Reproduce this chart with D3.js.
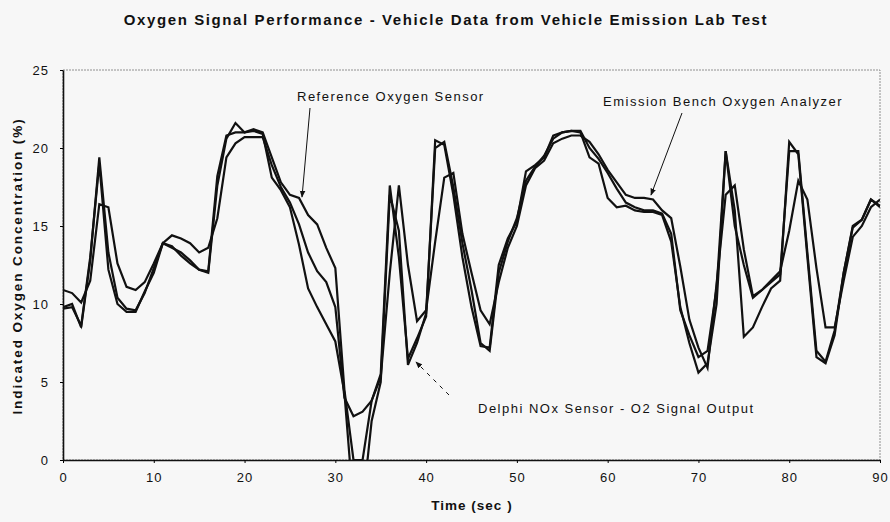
<!DOCTYPE html>
<html>
<head>
<meta charset="utf-8">
<script src="https://cdn.jsdelivr.net/npm/d3@7"></script>
<style>
  body { margin: 0; background: #f7f7f7; }
  text { font-family: "Liberation Sans", Arial, sans-serif; fill: #111; }
</style>
</head>
<body>
<div id="chart"></div>
<script>
// time in seconds
var times = d3.range(0, 91);

// Reference Oxygen Sensor
var refSensor = [9.8, 10.0, 8.5, 12.8, 19.4, 13.3, 10.4, 9.7, 9.6, 10.7,
  12.3, 13.9, 13.7, 13.1, 12.6, 12.2, 12.0, 17.6, 20.6, 21.6,
  21.0, 21.2, 21.0, 19.4, 17.8, 17.0, 16.8, 15.7, 15.1, 13.6,
  12.3, 4.5, 0.0, 0.0, 3.8, 5.5, 17.6, 13.0, 6.5, 7.8,
  9.2, 20.5, 20.2, 17.0, 13.0, 9.8, 7.3, 7.2, 12.5, 14.2,
  15.3, 18.5, 18.9, 19.4, 20.8, 21.0, 21.1, 21.1, 20.0, 19.3,
  18.4, 17.4, 16.5, 16.2, 16.0, 16.0, 15.8, 14.5, 9.6, 8.0,
  6.6, 7.0, 11.0, 19.8, 15.0, 12.5, 10.4, 10.9, 11.4, 11.9,
  19.8, 19.8, 13.3, 7.0, 6.3, 8.3, 12.0, 15.0, 15.4, 16.7, 16.2];

// Emission Bench Oxygen Analyzer
var benchAnalyzer = [10.9, 10.7, 10.1, 11.5, 16.4, 16.2, 12.6, 11.1, 10.9, 11.4,
  12.6, 13.9, 14.4, 14.2, 13.9, 13.3, 13.6, 15.5, 19.4, 20.3,
  20.7, 20.7, 20.7, 18.9, 17.5, 16.5, 15.1, 13.3, 12.1, 11.4,
  9.8, 4.0, 2.8, 3.1, 3.8, 5.3, 12.0, 17.6, 12.5, 8.9,
  9.6, 14.0, 18.1, 18.4, 14.5, 12.0, 9.6, 8.7, 11.4, 13.6,
  15.0, 17.6, 18.7, 19.2, 20.3, 20.6, 20.8, 20.8, 20.4, 19.6,
  18.6, 17.8, 17.0, 16.8, 16.8, 16.7, 16.0, 15.5, 12.4, 9.0,
  7.2, 5.9, 11.3, 17.0, 17.6, 13.5, 10.5, 10.9, 11.5, 12.1,
  14.7, 17.9, 16.7, 12.3, 8.5, 8.5, 11.5, 14.3, 15.0, 16.2, 16.7];

// Delphi NOx Sensor - O2 signal
var delphiNox = [9.7, 9.8, 8.6, 13.0, 19.0, 12.2, 10.0, 9.5, 9.5, 10.8,
  12.0, 13.9, 13.6, 13.3, 12.8, 12.2, 12.1, 18.2, 20.8, 21.0,
  21.0, 21.1, 20.9, 18.1, 17.3, 16.2, 13.8, 11.0, 9.8, 8.7,
  7.6, 4.3, -3.0, -3.0, 2.5, 5.0, 17.0, 14.7, 6.1, 7.5,
  9.4, 20.0, 20.4, 17.5, 13.9, 10.9, 7.5, 7.0, 12.0, 14.0,
  15.5, 17.9, 18.8, 19.5, 20.6, 21.0, 21.1, 21.0, 19.4, 19.0,
  16.8, 16.2, 16.3, 16.0, 15.9, 15.9, 15.7, 14.0, 9.8, 7.5,
  5.6, 6.2, 10.0, 19.8, 16.0, 7.9, 8.5, 9.8, 11.0, 11.5,
  20.4, 19.6, 13.0, 6.6, 6.2, 8.0, 12.0, 14.9, 15.4, 16.7, 16.3];

var xTicks = [0, 10, 20, 30, 40, 50, 60, 70, 80, 90];
var yTicks = [0, 5, 10, 15, 20, 25];

var margin = { top: 70, right: 10, bottom: 62, left: 63 };
var dimension = { width: 890, height: 522 };
var width = dimension.width - margin.left - margin.right,
    height = dimension.height - margin.top - margin.bottom;

var svg = d3.select("#chart")
  .append("svg")
  .attr("width", dimension.width)
  .attr("height", dimension.height)
  .style("background", "#f7f7f7");

var defs = svg.append("defs");
defs.append("clipPath").attr("id", "plotclip")
  .append("rect")
  .attr("width", width)
  .attr("height", height);
defs.append("marker")
  .attr("id", "arrow")
  .attr("viewBox", "0 0 10 10")
  .attr("refX", 9).attr("refY", 5)
  .attr("markerWidth", 7).attr("markerHeight", 7)
  .attr("orient", "auto")
  .append("path")
  .attr("d", "M0,1 L10,5 L0,9 Z")
  .attr("fill", "#111");

// title
svg.append("text")
  .attr("x", 446)
  .attr("y", 25)
  .attr("text-anchor", "middle")
  .style("font-size", "15px")
  .style("font-weight", "bold")
  .style("letter-spacing", "1.6px")
  .text("Oxygen Signal Performance - Vehicle Data from Vehicle Emission Lab Test");

var g = svg.append("g")
  .attr("transform", "translate(" + margin.left + "," + margin.top + ")");

var x = d3.scaleLinear().domain([0, 90]).range([0, width]);
var y = d3.scaleLinear().domain([0, 25]).range([height, 0]);

// frame (top and right thin)
g.append("rect")
  .attr("width", width)
  .attr("height", height)
  .attr("fill", "none")
  .attr("stroke", "#777")
  .attr("stroke-width", 0.8)
  .attr("stroke-dasharray", "2,1");

// x axis
var xAxis = g.append("g")
  .attr("transform", "translate(0," + height + ")")
  .call(d3.axisBottom(x).tickValues(xTicks).tickSize(3).tickPadding(10).tickSizeOuter(0));
xAxis.select(".domain").attr("stroke", "#111").attr("stroke-width", 1.6);
xAxis.selectAll("text").style("font-size", "13px").style("letter-spacing", "1px");

// y axis
var yAxis = g.append("g")
  .call(d3.axisLeft(y).tickValues(yTicks).tickSize(3).tickPadding(11).tickSizeOuter(0));
yAxis.select(".domain").attr("stroke", "#111").attr("stroke-width", 1.6);
yAxis.selectAll("text").style("font-size", "13px").style("letter-spacing", "1px");

// axis titles
svg.append("text")
  .attr("x", 472)
  .attr("y", 510)
  .attr("text-anchor", "middle")
  .style("font-size", "13.5px")
  .style("font-weight", "bold")
  .style("letter-spacing", "1px")
  .text("Time (sec )");

svg.append("text")
  .attr("transform", "translate(22," + (margin.top + 196) + ") rotate(-90)")
  .attr("text-anchor", "middle")
  .style("font-size", "13.5px")
  .style("font-weight", "bold")
  .style("letter-spacing", "1.9px")
  .text("Indicated Oxygen Concentration (%)");

// lines
var line = d3.line()
  .x(function(d, i) { return x(times[i]); })
  .y(function(d) { return y(d); });

var plot = g.append("g").attr("clip-path", "url(#plotclip)");
[refSensor, benchAnalyzer, delphiNox].forEach(function(s) {
  plot.append("path")
    .datum(s)
    .attr("d", line)
    .attr("fill", "none")
    .attr("stroke", "#111")
    .attr("stroke-width", 2.2)
    .attr("stroke-linejoin", "miter");
});

// annotations
function note(label, tx, ty, x1, y1, x2, y2, dashed) {
  svg.append("text")
    .attr("x", tx)
    .attr("y", ty)
    .style("font-size", "13px")
    .style("letter-spacing", "1.5px")
    .text(label);
  svg.append("line")
    .attr("x1", x1).attr("y1", y1)
    .attr("x2", x2).attr("y2", y2)
    .attr("stroke", "#111")
    .attr("stroke-width", 1)
    .attr("stroke-dasharray", dashed ? "4,5" : null)
    .attr("marker-end", "url(#arrow)");
}

note("Reference Oxygen Sensor", 297, 101, 310, 108, 302, 197, false);
note("Emission Bench Oxygen Analyzer", 603, 106, 682, 113, 651, 195, false);
note("Delphi NOx Sensor - O2 Signal Output", 478, 413, 449, 395, 416, 362, true);
</script>
</body>
</html>
